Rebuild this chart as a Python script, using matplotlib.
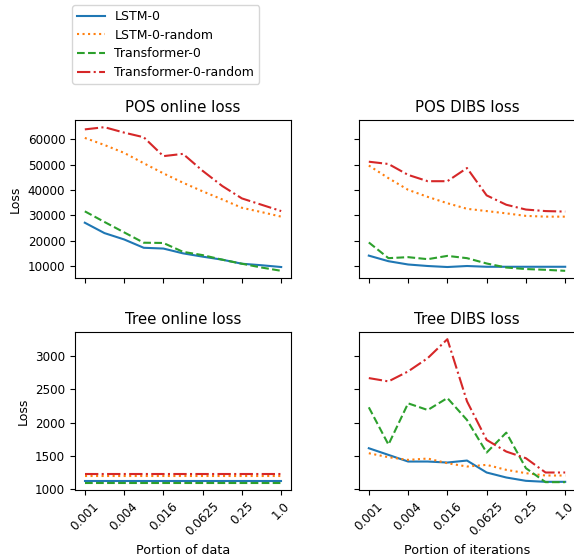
import matplotlib
matplotlib.use("Agg")
import matplotlib.pyplot as plt
from matplotlib.ticker import MultipleLocator
import numpy as np

x_labels = ["0.001", "0.004", "0.016", "0.0625", "0.25", "1.0"]
n_points = 11

series_names = ["LSTM-0", "LSTM-0-random", "Transformer-0", "Transformer-0-random"]
colors = ["#1f77b4", "#ff7f0e", "#2ca02c", "#d62728"]
styles = ["-", ":", "--", "-."]

pos_online_lstm = [27100, 23000, 20500, 17200, 16900, 15000, 13700, 12500, 10900, 10300, 9600]
pos_online_lstm_rand = [60600, 57800, 54700, 50600, 46600, 42900, 39500, 36300, 33000, 31300, 29500]
pos_online_tf = [31600, 27400, 23300, 19200, 19100, 15600, 14300, 12500, 10900, 9400, 8100]
pos_online_tf_rand = [63970, 64840, 62700, 60870, 53400, 54300, 47600, 41600, 36700, 34200, 31700]

pos_dibs_lstm = [14100, 11900, 10600, 10000, 9600, 10000, 9700, 9700, 9700, 9700, 9700]
pos_dibs_lstm_rand = [49700, 44700, 40100, 37300, 34800, 32600, 31700, 30800, 29800, 29500, 29500]
pos_dibs_tf = [19300, 13100, 13500, 12700, 14000, 13100, 11000, 9400, 8800, 8500, 8100]
pos_dibs_tf_rand = [51200, 50300, 46000, 43500, 43500, 48700, 37900, 34200, 32300, 31700, 31500]

tree_online_lstm = [1120] * 11
tree_online_lstm_rand = [1205] * 11
tree_online_tf = [1095] * 11
tree_online_tf_rand = [1225] * 11

tree_dibs_lstm = [1615, 1515, 1415, 1415, 1400, 1430, 1250, 1175, 1125, 1110, 1110]
tree_dibs_lstm_rand = [1540, 1480, 1440, 1460, 1390, 1340, 1365, 1290, 1240, 1205, 1205]
tree_dibs_tf = [2230, 1670, 2290, 2190, 2370, 2040, 1550, 1850, 1315, 1105, 1105]
tree_dibs_tf_rand = [2670, 2620, 2770, 2970, 3255, 2320, 1740, 1565, 1465, 1250, 1250]

panels = [
    ("POS online loss", [pos_online_lstm, pos_online_lstm_rand, pos_online_tf, pos_online_tf_rand]),
    ("POS DIBS loss", [pos_dibs_lstm, pos_dibs_lstm_rand, pos_dibs_tf, pos_dibs_tf_rand]),
    ("Tree online loss", [tree_online_lstm, tree_online_lstm_rand, tree_online_tf, tree_online_tf_rand]),
    ("Tree DIBS loss", [tree_dibs_lstm, tree_dibs_lstm_rand, tree_dibs_tf, tree_dibs_tf_rand]),
]

W, H = 574, 557
fig = plt.figure(figsize=(W / 100, H / 100), dpi=100)

lefts = [75 / W, 359 / W]
width = 216 / W
bottoms = [1 - 278 / H, 1 - 490 / H]
height = 158 / H

axes = []
for r in range(2):
    for c in range(2):
        sharey = axes[r * 2] if c == 1 else None
        ax = fig.add_axes([lefts[c], bottoms[r], width, height], sharey=sharey)
        axes.append(ax)

xs = np.arange(n_points)
for i, (ax, (title, data)) in enumerate(zip(axes, panels)):
    for vals, name, col, ls in zip(data, series_names, colors, styles):
        ax.plot(xs, vals, color=col, linestyle=ls, linewidth=1.5, label=name)
    ax.set_title(title, fontsize=10.8)
    ax.set_xticks(xs[::2])
    if i >= 2:
        ax.set_xticklabels(x_labels, rotation=45, ha="center")
    else:
        ax.set_xticklabels([])
    if i % 2 == 1:
        ax.tick_params(axis="y", labelleft=False)
    else:
        ax.set_ylabel("Loss", fontsize=9)
    ax.tick_params(labelsize=8.6)

axes[0].yaxis.set_major_locator(MultipleLocator(10000))
axes[2].yaxis.set_major_locator(MultipleLocator(500))

axes[2].set_xlabel("Portion of data", fontsize=9.2)
axes[3].set_xlabel("Portion of iterations", fontsize=9.2)

handles, labels = axes[0].get_legend_handles_labels()
fig.legend(handles, labels, loc="upper left", bbox_to_anchor=(72 / W, 1 - 5 / H),
           borderaxespad=0, fontsize=9.0, labelspacing=0.45, handlelength=2.2,
           frameon=True)

fig.savefig("out.png", dpi=100)
